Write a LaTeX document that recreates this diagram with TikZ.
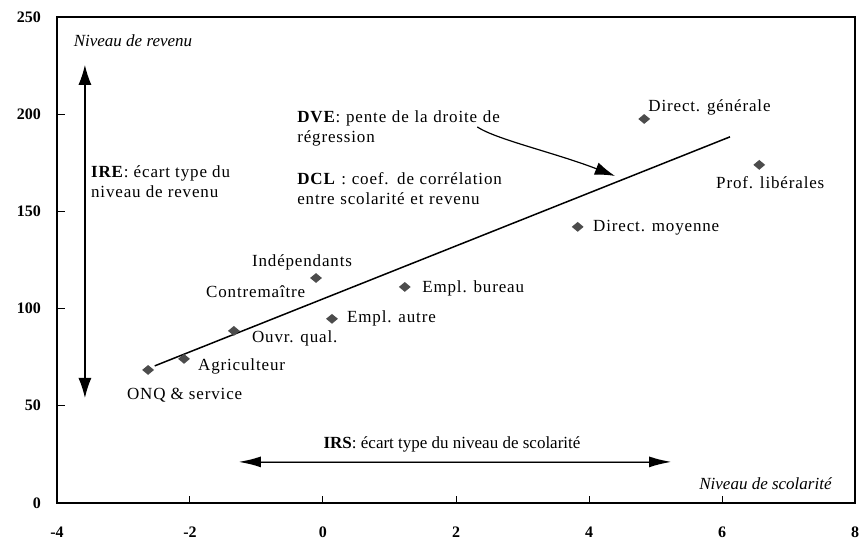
\documentclass[tikz,border=0pt]{standalone}
\usepackage{fontspec}
\setmainfont{Liberation Serif}
\newfontfamily\lblfont[LetterSpace=5]{Liberation Serif}
\usetikzlibrary{arrows.meta,shapes.geometric}

\tikzset{
  obs/.style={diamond,fill=black!70,inner sep=0pt,minimum width=12pt,minimum height=10pt},
  lbl/.style={anchor=west,inner sep=0pt,font=\fontsize{17}{20}\selectfont\lblfont},
  axnum/.style={inner sep=0pt,font=\fontsize{16}{19}\selectfont\bfseries},
  axname/.style={inner sep=0pt,font=\fontsize{17}{20}\selectfont\itshape},
  bigarrow/.style={line width=1.2pt,-{Latex[length=20pt,width=13pt]}},
}

\begin{document}
\begin{tikzpicture}[x=66.5pt,y=1.944pt]
  \useasboundingbox (-4.857,-19.03) rectangle (8.06,258.7);
  % frame and ticks
  \draw[line width=1.6pt] (-4,0) rectangle (8,250);
  \foreach \x in {-2,0,...,6} \draw[line width=1pt] (\x,0) -- ++(0,7pt);
  \foreach \y in {50,100,...,200} \draw[line width=1pt] (-4,\y) -- ++(8pt,0);
  \foreach \x in {-4,-2,...,8} \node[axnum,anchor=base] (xl\x) at (\x,-17.6) {\x};
  \foreach \y in {0,50,...,250} \node[axnum,anchor=east] (yl\y) at (-4.24,\y) {\y};
  \node[axname,anchor=west] (yname) at (-3.75,237.7) {Niveau de revenu};
  \node[axname,anchor=east] (xname) at (7.65,9.8) {Niveau de scolarit\'e};

  % regression line
  \coordinate (regA) at (-2.53,70.5);
  \coordinate (regB) at (6.12,188.3);
  \draw[line width=1.5pt] (regA) -- (regB);

  % observations
  \node[obs] (onq) at (-2.63,68.4) {};
  \node[obs] (agri) at (-2.09,74.1) {};
  \node[obs] (ouvr) at (-1.34,88.5) {};
  \node[obs] (indep) at (-0.105,115.7) {};
  \node[obs] (emplA) at (0.135,94.7) {};
  \node[obs] (emplB) at (1.23,111.1) {};
  \node[obs] (dirM) at (3.83,142) {};
  \node[obs] (dirG) at (4.83,197.5) {};
  \node[obs] (prof) at (6.56,173.9) {};

  \node[lbl] (onqL) at (-2.95,55.6) {ONQ \& service};
  \node[lbl] (agriL) at (-1.88,70.0) {Agriculteur};
  \node[lbl] (ouvrL) at (-1.07,84.4) {Ouvr. qual.};
  \node[lbl] (indepL) at (-1.07,123.5) {Ind\'ependants};
  \node[lbl] (contL) at (-1.76,108.5) {Contrema\^itre};
  \node[lbl] (emplAL) at (0.36,94.7) {Empl. autre};
  \node[lbl] (emplBL) at (1.49,110.1) {Empl. bureau};
  \node[lbl] (dirML) at (4.06,141.5) {Direct. moyenne};
  \node[lbl] (dirGL) at (4.89,203.2) {Direct. g\'en\'erale};
  \node[lbl] (profL) at (5.91,164.6) {Prof. lib\'erales};

  % IRE
  \coordinate (ireTop) at (-3.58,225.3);
  \coordinate (ireBot) at (-3.58,54);
  \draw[bigarrow,{Latex[length=20pt,width=13pt]}-{Latex[length=20pt,width=13pt]}] (ireBot) -- (ireTop);
  \node[lbl,align=left] (ireT) at (-3.49,165) {\textbf{IRE}: \'ecart type du\\niveau de revenu};

  % IRS
  \coordinate (irsL) at (-1.28,21.1);
  \coordinate (irsR) at (5.25,21.1);
  \draw[line width=2.4pt,{Latex[length=23pt,width=11pt]}-{Latex[length=23pt,width=11pt]}] (irsL) -- (irsR);
  \draw[black!45,line width=0.9pt,shorten <=23pt,shorten >=23pt] (irsL) -- (irsR);
  \node[inner sep=0pt,font=\fontsize{17}{20}\selectfont] (irsT) at (1.94,30.3) {\textbf{IRS}: \'ecart type du niveau de scolarit\'e};

  % DVE and DCL
  \node[lbl,text width=219pt,align=left] (dveT) at (-0.39,192.4)
    {\makebox[\linewidth][s]{\textbf{DVE}: pente de la droite de}\\r\'egression};
  \node[lbl,text width=219pt,align=left] (dclT) at (-0.39,161.5)
    {\makebox[\linewidth][s]{\textbf{DCL} : coef. de corr\'elation}\\entre scolarit\'e et revenu};
  \coordinate (dveFrom) at (2.32,193.4);
  \coordinate (dveTo) at (4.39,168.2);
  \draw[bigarrow] (dveFrom) .. controls (2.6,187) and (3.5,180) .. (dveTo);
\end{tikzpicture}
\end{document}
